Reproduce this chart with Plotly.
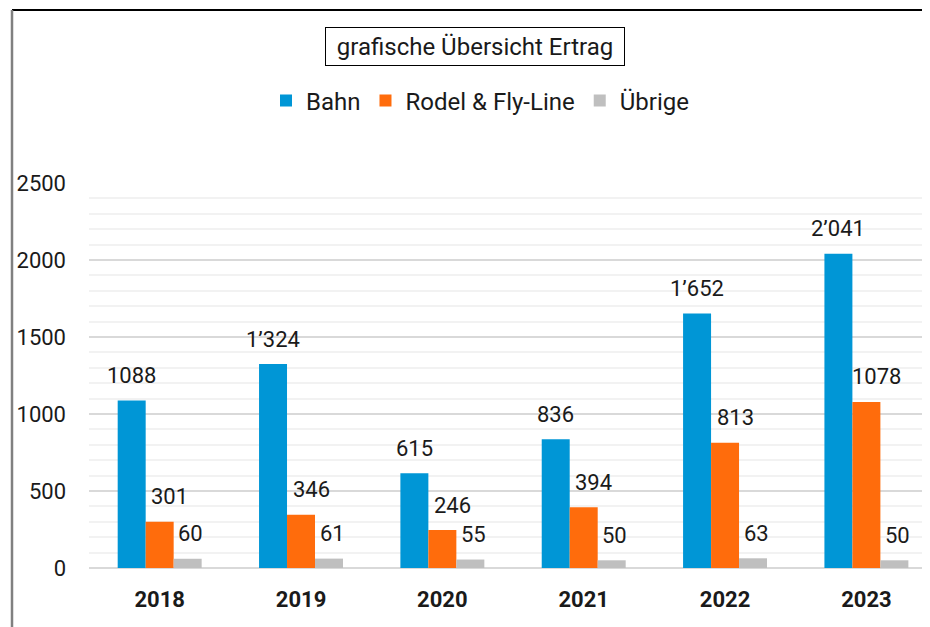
import plotly.graph_objects as go

years = ["2018", "2019", "2020", "2021", "2022", "2023"]
bahn = [1088, 1324, 615, 836, 1652, 2041]
rodel = [301, 346, 246, 394, 813, 1078]
uebrige = [60, 61, 55, 50, 63, 50]
bahn_labels = ["1088", "1\u2019324", "615", "836", "1\u2019652", "2\u2019041"]
rodel_labels = ["301", "346", "246", "394", "813", "1078"]
uebrige_labels = ["60", "61", "55", "50", "63", "50"]
y_ticks = [0, 500, 1000, 1500, 2000, 2500]

OFF = 8  # page body margin
W, H = 930 - OFF, 627 - OFF
L, R_PX, T, B = 89 - OFF, 930 - OFF, 183 - OFF, 568 - OFF
FONT = "Roboto"
TXT = "#1a1a1a"


def xp(px):
    return (px - OFF - L) / (R_PX - L)


def yp(py):
    return (B - (py - OFF)) / (B - T)


colors = {"Bahn": "#0096D6", "Rodel & Fly-Line": "#FF6C0C", "Übrige": "#BFBFBF"}
BARGAP = 0.406
bw = (1 - BARGAP) / 3

fig = go.Figure()
for name, vals in [("Bahn", bahn), ("Rodel & Fly-Line", rodel), ("Übrige", uebrige)]:
    fig.add_trace(go.Bar(x=years, y=vals, name=name, marker_color=colors[name],
                         marker_line_width=0))

annotations = []
for k, (vals, labels, dx) in enumerate([(bahn, bahn_labels, 0), (rodel, rodel_labels, 10),
                                        (uebrige, uebrige_labels, 3)]):
    for i, (v, t) in enumerate(zip(vals, labels)):
        annotations.append(dict(x=i + (k - 1) * bw, y=v, xref="x", yref="y", text=t,
                                showarrow=False, xshift=dx, yshift=25, yanchor="middle",
                                font=dict(family=FONT, size=22, color=TXT)))

annotations.append(dict(x=xp(475), y=yp(46), xref="paper", yref="paper",
                        text="grafische Übersicht Ertrag", showarrow=False,
                        xanchor="center", yanchor="middle",
                        bordercolor="#000000", borderwidth=1, borderpad=3,
                        width=292, height=31,
                        font=dict(family=FONT, size=24, color=TXT)))

shapes = [
    dict(type="line", xref="paper", yref="paper", x0=xp(12), x1=xp(927), y0=yp(10), y1=yp(10),
         line=dict(color="#000000", width=2)),
    dict(type="line", xref="paper", yref="paper", x0=xp(12), x1=xp(12), y0=yp(10), y1=yp(640),
         line=dict(color="#808080", width=2.5)),
]

fig.update_layout(
    width=W, height=H,
    margin=dict(l=L, r=W - R_PX, t=T, b=H - B, pad=0),
    paper_bgcolor="white", plot_bgcolor="white",
    barmode="group", bargap=BARGAP, bargroupgap=0,
    font=dict(family=FONT, size=22, color=TXT),
    legend=dict(orientation="h", x=xp(480), y=yp(101), xanchor="center", yanchor="middle",
                font=dict(family=FONT, size=24, color=TXT), itemwidth=30,
                bgcolor="rgba(0,0,0,0)"),
    annotations=annotations,
    shapes=shapes,
    showlegend=True,
)
fig.update_xaxes(type="category", range=[-0.5, 5.45], showgrid=False, showline=False, ticks="",
                 tickfont=dict(family=FONT, size=22, color=TXT, weight="bold"),
                 ticklabelstandoff=16, fixedrange=True)
fig.update_yaxes(range=[0, 2500], tickvals=y_ticks, showgrid=True, gridcolor="#D9D9D9",
                 gridwidth=2, zeroline=True, zerolinecolor="#D9D9D9", zerolinewidth=2,
                 showline=False, ticks="", ticklabelstandoff=22,
                 minor=dict(dtick=100, tick0=0, showgrid=True, gridcolor="#F2F2F2", gridwidth=2),
                 tickfont=dict(family=FONT, size=22, color=TXT), fixedrange=True)

fig.write_html("out.html")
